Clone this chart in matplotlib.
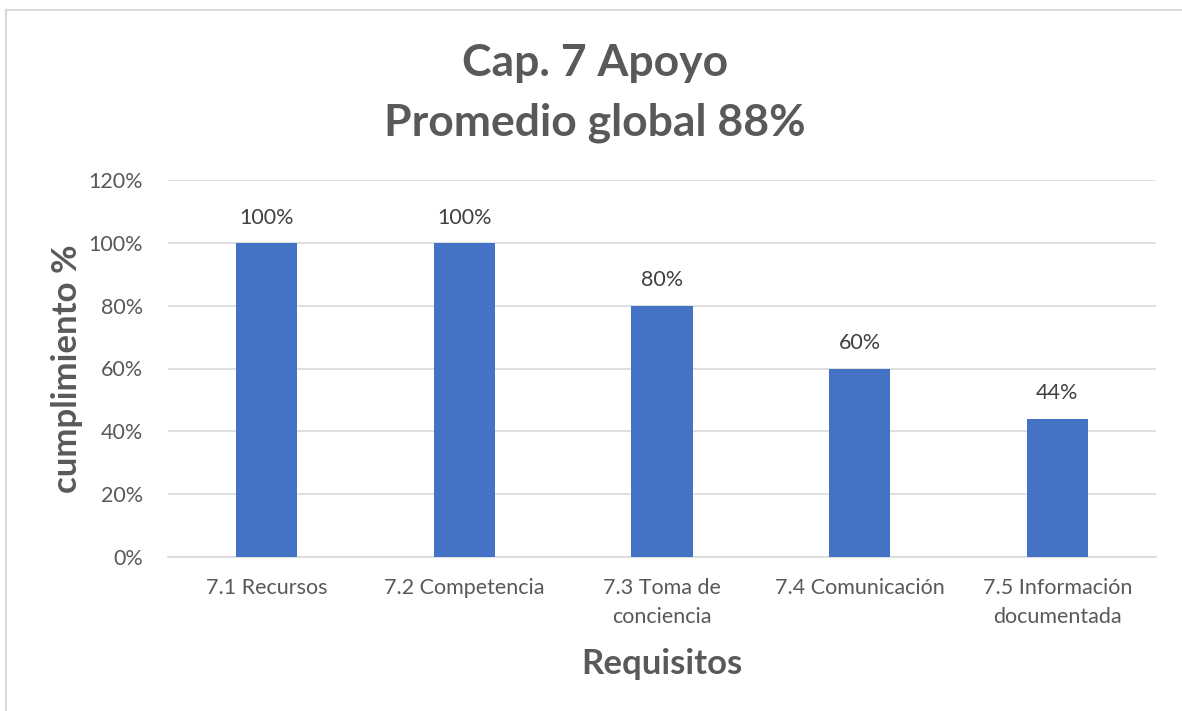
import matplotlib.pyplot as plt
from matplotlib.lines import Line2D
from matplotlib.ticker import PercentFormatter

categories = ["7.1 Recursos", "7.2 Competencia", "7.3 Toma de\nconciencia",
              "7.4 Comunicación", "7.5 Información\ndocumentada"]
values = [100, 100, 80, 60, 44]
yticks = [0, 20, 40, 60, 80, 100, 120]

plt.rcParams["font.family"] = ["Lato", "DejaVu Sans"]
text_color = "#595959"
bar_color = "#4472C4"
grid_color = "#D9D9D9"

fig = plt.figure(figsize=(11.82, 7.11), dpi=100)
ax = fig.add_axes([168 / 1182, 1 - 557 / 711, (1156 - 168) / 1182, (557 - 180) / 711])

xs = range(len(categories))
bars = ax.bar(xs, values, width=0.31, color=bar_color, zorder=3)

for b, v in zip(bars, values):
    ax.annotate(f"{v}%", (b.get_x() + b.get_width() / 2, v), xytext=(0, 11),
                textcoords="offset points", ha="center", va="bottom",
                fontsize=15.5, color="#404040")

ax.set_xlim(-0.5, len(categories) - 0.5)
ax.set_ylim(0, 120)
ax.set_yticks(yticks)
ax.yaxis.set_major_formatter(PercentFormatter(decimals=0))
ax.set_xticks(list(xs))
ax.set_xticklabels(categories, linespacing=1.6)
ax.tick_params(axis="both", length=0, labelsize=15.5, labelcolor=text_color)
ax.tick_params(axis="y", pad=18)
ax.tick_params(axis="x", pad=15)
ax.grid(axis="y", color=grid_color, linewidth=1.2, zorder=0)

for s in ["top", "right", "left"]:
    ax.spines[s].set_visible(False)
ax.spines["bottom"].set_color(grid_color)
ax.spines["bottom"].set_linewidth(1.2)

ax.set_ylabel("cumplimiento %", fontsize=25, fontweight="bold", color=text_color, labelpad=4)
ax.set_xlabel("Requisitos", fontsize=25, fontweight="bold", color=text_color, labelpad=15)

fig.text(595 / 1182, 1 - 63 / 711, "Cap. 7 Apoyo", ha="center", va="center",
         fontsize=32, fontweight="bold", color=text_color)
fig.text(595 / 1182, 1 - 123 / 711, "Promedio global 88%", ha="center", va="center",
         fontsize=32, fontweight="bold", color=text_color)

# chart frame (only top and left edges visible)
fig.add_artist(Line2D([6 / 1182, 6 / 1182], [0, 1 - 10 / 711], color=grid_color, linewidth=1.5))
fig.add_artist(Line2D([6 / 1182, 1], [1 - 10 / 711, 1 - 10 / 711], color=grid_color, linewidth=1.5))

fig.savefig("out.png", dpi=100)
